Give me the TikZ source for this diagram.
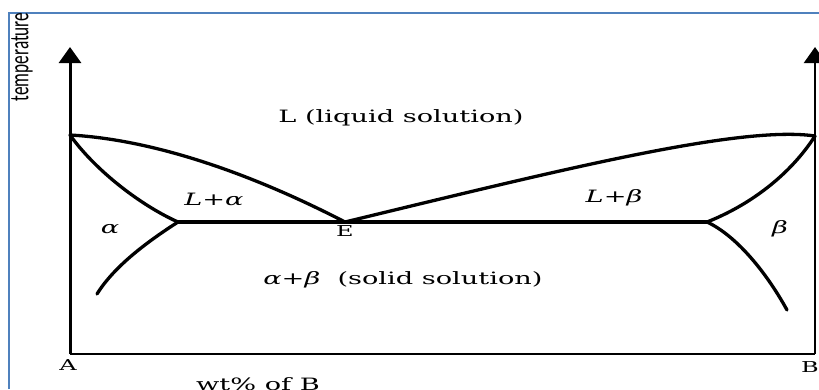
\documentclass[tikz,border=0pt]{standalone}
\usepackage{fontspec}
\setmainfont{DejaVu Serif}
\newfontfamily\labelfont{Carlito}
\usetikzlibrary{arrows.meta,positioning}
\definecolor{frameblue}{HTML}{4F81BD}
\newcommand{\wide}[1]{\scalebox{1.6}[1]{#1}}

\begin{document}
\begin{tikzpicture}[x=1pt,y=-1pt,every node/.style={font=\fontsize{17}{19}\selectfont,inner sep=0pt},
  axis/.style={line width=3pt,-{Triangle[length=16pt,width=22pt]}},
  phase/.style={line width=3.3pt,line cap=round},
  letter/.style={font=\fontsize{15}{17}\selectfont}]
\useasboundingbox (0,0) rectangle (819,389);
\draw[frameblue,line width=2pt] (9,389) -- (9,13) -- (819,13);
% axes
\coordinate (A0) at (70,354);
\coordinate (B0) at (815,354);
\coordinate (Atop) at (70,47);
\coordinate (Btop) at (815,47);
\draw[axis] (A0) -- (Atop);
\draw[axis,line width=2.3pt] (B0) -- (Btop);
\draw[line width=2.3pt] (A0) -- (B0);
% melting points, eutectic and solvus ends
\coordinate (TA) at (70,135);
\coordinate (TB) at (815,136);
\coordinate (E) at (345,222);
\coordinate (eA) at (178,222);
\coordinate (eB) at (707,222);
\coordinate (sA) at (97,294);
\coordinate (sB) at (787,310);
\draw[phase] (TA) .. controls (160,140) and (260,178) .. (E);
\draw[phase] (E) .. controls (560,170) and (740,125) .. (TB);
\draw[phase] (eA) -- (eB);
\draw[phase] (TA) .. controls (95,170) and (140,205) .. (eA);
\draw[phase] (eA) .. controls (150,240) and (115,265) .. (sA);
\draw[phase] (TB) .. controls (790,175) and (750,205) .. (eB);
\draw[phase] (eB) .. controls (735,235) and (765,270) .. (sB);
% labels
\node (liq) at (401,118) {\wide{L (liquid solution)}};
\node (La) at (214,199) {\wide{\itshape L+α}};
\node (Lb) at (614,198) {\wide{\itshape L+β}};
\node (al) at (110,229) {\wide{\itshape α}};
\node (be) at (780,229) {\wide{\itshape β}};
\node[letter,below=3pt of E] (Elab) {\wide{E}};
\node (sol) at (403,280) {\wide{\itshape α+β\upshape\ \ (solid solution)}};
\node[letter] (Alab) at (68,365) {\wide{A}};
\node[letter] (Blab) at (810,367) {\wide{B}};
\node (wt) at (258,384) {\wide{wt\% of B}};
\node[rotate=90,font=\labelfont\fontsize{27}{29}\selectfont] (temp) at (22,57) {\scalebox{0.64}[1]{temperature}};
\end{tikzpicture}
\end{document}
